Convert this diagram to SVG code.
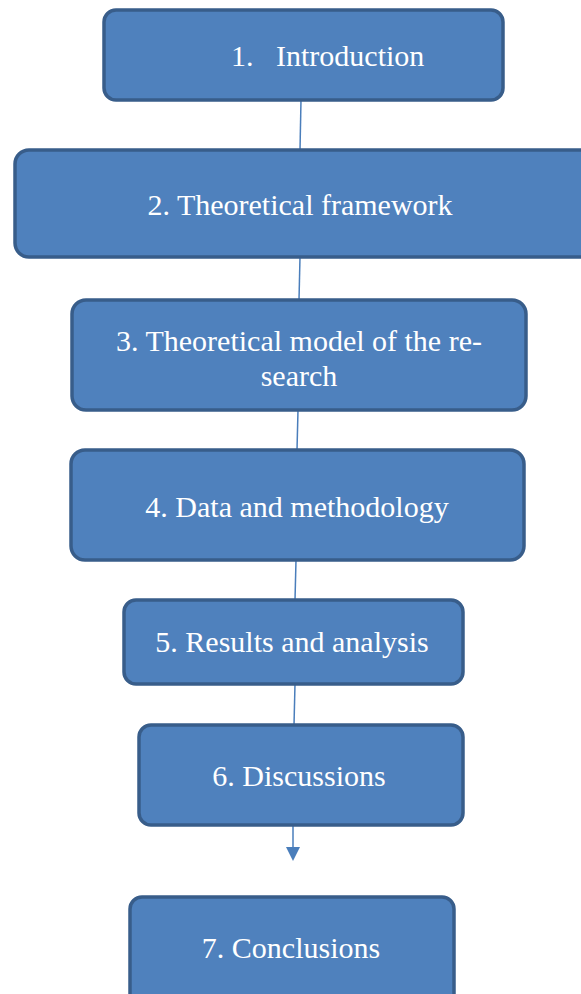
<svg xmlns="http://www.w3.org/2000/svg" width="581" height="994" viewBox="0 0 581 994">
  <style>
    .box { fill: #4F81BD; stroke: #385D8A; stroke-width: 3.5; }
    .lbl { fill: #FFFFFF; font-family: "Liberation Serif", "Times New Roman", serif; font-size: 30px; }
    .mid { text-anchor: middle; }
    .link { stroke: #4A7EBB; stroke-width: 1.5; fill: none; }
    .head { fill: #4A7EBB; }
  </style>
  <rect width="581" height="994" fill="#FFFFFF"/>

  <g id="connectors">
    <line class="link" x1="301" y1="100" x2="300" y2="150"/>
    <line class="link" x1="300" y1="257" x2="299" y2="300"/>
    <line class="link" x1="298" y1="410" x2="297" y2="450"/>
    <line class="link" x1="296" y1="560" x2="295" y2="600"/>
    <line class="link" x1="295" y1="684" x2="294" y2="725"/>
    <line class="link" x1="293" y1="825" x2="293" y2="850"/>
    <polygon class="head" points="286,847 300,847 293,861"/>
  </g>

  <g id="node1">
    <rect class="box" x="104" y="10" width="399" height="90" rx="12"/>
    <text class="lbl" x="231" y="66">1.</text>
    <text class="lbl" x="276" y="66">Introduction</text>
  </g>
  <g id="node2">
    <rect class="box" x="15" y="150" width="580" height="107" rx="14"/>
    <text class="lbl mid" x="300" y="215">2. Theoretical framework</text>
  </g>
  <g id="node3">
    <rect class="box" x="72" y="300" width="454" height="110" rx="14"/>
    <text class="lbl mid" x="299" y="351">3. Theoretical model of the re-</text>
    <text class="lbl mid" x="299" y="386">search</text>
  </g>
  <g id="node4">
    <rect class="box" x="71" y="450" width="453" height="110" rx="14"/>
    <text class="lbl mid" x="297" y="517">4. Data and methodology</text>
  </g>
  <g id="node5">
    <rect class="box" x="124" y="600" width="339" height="84" rx="12"/>
    <text class="lbl mid" x="292" y="652">5. Results and analysis</text>
  </g>
  <g id="node6">
    <rect class="box" x="139" y="725" width="324" height="100" rx="12"/>
    <text class="lbl mid" x="299" y="786">6. Discussions</text>
  </g>
  <g id="node7">
    <rect class="box" x="130" y="897" width="324" height="110" rx="12"/>
    <text class="lbl mid" x="291" y="958">7. Conclusions</text>
  </g>
</svg>
